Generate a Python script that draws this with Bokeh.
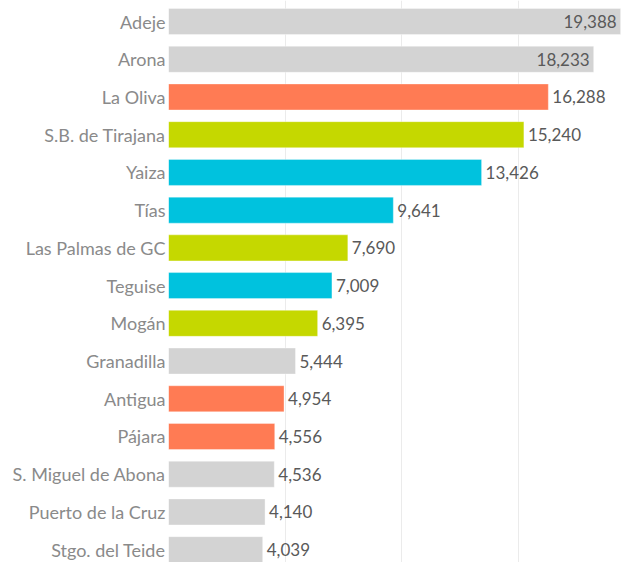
from bokeh.plotting import figure
from bokeh.models import ColumnDataSource, Range1d, FixedTicker, CustomJSTickFormatter
from bokeh.transform import factor_cmap
from bokeh.core.properties import value
from bokeh.embed import file_html
from bokeh.resources import INLINE

municipalities = ["Adeje", "Arona", "La Oliva", "S.B. de Tirajana", "Yaiza", "Tías",
                  "Las Palmas de GC", "Teguise", "Mogán", "Granadilla", "Antigua",
                  "Pájara", "S. Miguel de Abona", "Puerto de la Cruz", "Stgo. del Teide"]
values = [19388, 18233, 16288, 15240, 13426, 9641, 7690, 7009, 6395, 5444, 4954,
          4556, 4536, 4140, 4039]
islands = ["Tenerife", "Tenerife", "Fuerteventura", "Gran Canaria", "Lanzarote", "Lanzarote",
           "Gran Canaria", "Lanzarote", "Gran Canaria", "Tenerife", "Fuerteventura",
           "Fuerteventura", "Tenerife", "Tenerife", "Tenerife"]
island_names = ["Tenerife", "Fuerteventura", "Gran Canaria", "Lanzarote"]
island_colors = ["#D3D3D3", "#FF7B54", "#C5D800", "#00C2DE"]
grid_ticks = [0, 5000, 10000, 15000]

FONT = "Lato"
X_MAX = 19683

rows = list(range(len(municipalities)))
labels = [f"{v:,}" for v in values]
src = ColumnDataSource(dict(y=rows, v=values, island=islands, label=labels))

inside = [v > 17000 for v in values]
src_in = ColumnDataSource(dict(y=[r for r, f in zip(rows, inside) if f],
                               v=[v for v, f in zip(values, inside) if f],
                               label=[l for l, f in zip(labels, inside) if f]))
src_out = ColumnDataSource(dict(y=[r for r, f in zip(rows, inside) if not f],
                                v=[v for v, f in zip(values, inside) if not f],
                                label=[l for l, f in zip(labels, inside) if not f]))

p = figure(width=627, height=562, output_backend="svg", toolbar_location=None,
           x_range=Range1d(0, X_MAX), y_range=Range1d(14.34, -0.557),
           min_border_left=168, min_border_right=0, min_border_top=0, min_border_bottom=0)

p.hbar(y="y", right="v", left=0, height=0.69, source=src,
       fill_color=factor_cmap("island", palette=island_colors, factors=island_names),
       line_color="white", line_alpha=0.35, line_width=1)

p.text(x="v", y="y", text="label", source=src_in, text_align="right", text_baseline="middle",
       x_offset=-4, text_font=value(FONT), text_font_size="17px", text_color="#595959")
p.text(x="v", y="y", text="label", source=src_out, text_align="left", text_baseline="middle",
       x_offset=4, text_font=value(FONT), text_font_size="17px", text_color="#595959")

p.xaxis.visible = False
p.xgrid[0].ticker = FixedTicker(ticks=grid_ticks)
p.xgrid.grid_line_color = "#EBEBEB"
p.ygrid.visible = False

names_js = "[" + ",".join('"' + m + '"' for m in municipalities) + "]"
p.yaxis.ticker = FixedTicker(ticks=rows)
p.yaxis.formatter = CustomJSTickFormatter(code=f"const n = {names_js}; return n[Math.round(tick)] || '';")
p.yaxis.axis_line_color = None
p.yaxis.major_tick_line_color = None
p.yaxis.minor_tick_line_color = None
p.yaxis.major_tick_out = 0
p.yaxis.major_tick_in = 0
p.yaxis.minor_tick_out = 0
p.yaxis.minor_tick_in = 0
p.yaxis.major_label_standoff = 3
p.yaxis.major_label_text_font = FONT
p.yaxis.major_label_text_font_size = "18px"
p.yaxis.major_label_text_color = "#8A8A8A"
p.outline_line_color = None
p.background_fill_color = "white"
p.border_fill_color = "white"

open("out.html", "w").write(file_html(p, INLINE))
